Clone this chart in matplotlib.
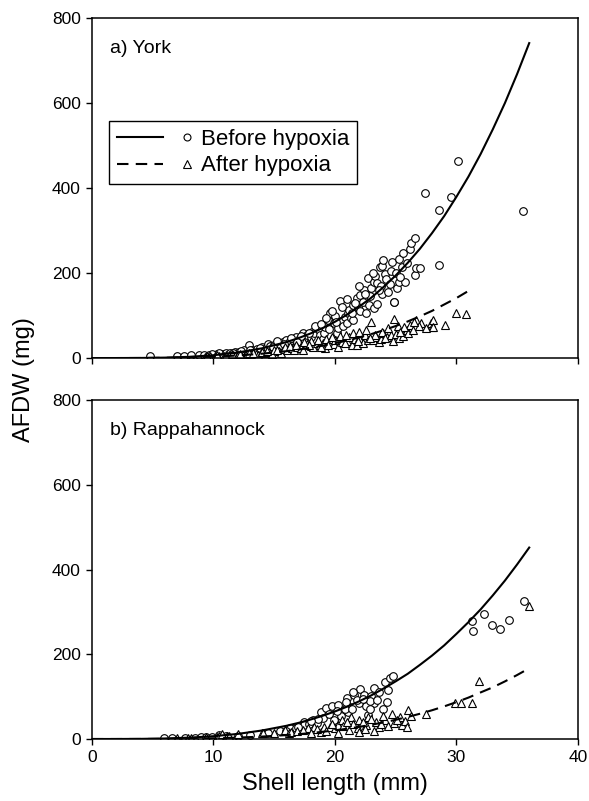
import matplotlib
matplotlib.use("Agg")
import matplotlib.pyplot as plt
from matplotlib.legend_handler import HandlerTuple
from matplotlib.lines import Line2D

plt.rcParams['font.family'] = ['Liberation Sans', 'DejaVu Sans']

# fitted curves (2 mm steps, 1 mm where it bends)
fit_x = [0, 2, 4, 6, 8, 10, 12, 14, 16, 17, 18, 19, 20, 21, 22, 23, 24, 25,
         26, 27, 28, 29, 30, 31, 32, 33, 34, 35, 36]
fit_x_york_after = [0, 2, 4, 6, 8, 10, 12, 14, 16, 17, 18, 19, 20, 21, 22, 23,
                    24, 25, 26, 27, 28, 29, 30, 31]

york_fit_before = [0, 0.018, 0.23, 1.0, 2.9, 6.6, 13.0, 22.9, 37.5, 46.8, 57.8,
                   70.5, 85.2, 102, 121, 142, 167, 194, 224, 257, 294, 334,
                   379, 427, 480, 538, 600, 668, 741]
york_fit_after = [0, 0.012, 0.135, 0.55, 1.5, 3.2, 6.0, 10.2, 16.1, 19.9, 24.2,
                  29.2, 34.8, 41.2, 48.4, 56.4, 65.3, 75.3, 86.1, 98.1, 111,
                  126, 141, 158]
rapp_fit_before = [0, 0.033, 0.32, 1.2, 3.2, 6.6, 12.0, 20.1, 31.1, 38.0, 45.9,
                   54.9, 65.0, 76.3, 89, 103, 119, 136, 154, 175, 197, 221,
                   248, 276, 306, 339, 374, 412, 452]
rapp_fit_after = [0, 0.005, 0.064, 0.27, 0.77, 1.7, 3.3, 5.7, 9.2, 11.4, 14.0,
                  17.0, 20.4, 24.2, 28.6, 33.6, 39.1, 45.3, 52.1, 59.6, 67.9,
                  77.0, 87, 97.8, 110, 122, 136, 151, 167]

# York, before hypoxia (circles)
york_before_x = [4.8, 7.0, 7.6, 8.2, 8.8, 9.2, 9.6, 10.0, 10.3, 10.7,
                 11.0, 11.4, 11.8, 12.1, 12.5, 12.9, 13.2, 13.6, 14.0, 14.3,
                 14.5, 14.7, 15.0, 15.3, 15.5, 15.7, 16.0, 16.2, 16.3, 16.6,
                 16.8, 17.0, 17.1, 17.4, 17.5, 17.7, 18.0, 18.1, 18.3, 18.5,
                 18.7, 18.8, 19.0, 19.1, 19.2, 19.4, 19.5, 19.6, 19.9, 20.0,
                 20.2, 20.3, 20.4, 20.5, 20.7, 20.8, 21.0, 21.1, 21.2, 21.3,
                 21.5, 21.5, 21.8, 21.9, 22.1, 22.1, 22.3, 22.4, 22.6, 22.7,
                 22.8, 22.9, 23.0, 23.2, 23.2, 23.3, 23.5, 23.5, 23.7, 23.8,
                 23.9, 23.9, 24.1, 24.2, 24.4, 24.6, 24.7, 24.9, 24.9, 25.1,
                 25.3, 25.3, 25.5, 25.6, 25.8, 25.9, 26.2, 26.3, 26.6, 26.6,
                 26.7, 27.0, 27.4, 28.6, 28.6, 29.6, 30.1, 35.5,
                 12.3, 13.0, 13.8, 14.9, 15.8, 16.4, 17.2, 17.9, 18.4, 18.9,
                 19.3, 19.8, 20.1, 20.6, 21.0, 21.4, 21.7, 22.0, 22.5, 23.1,
                 23.6, 24.0, 24.5, 25.0, 25.4, 11.6, 10.5, 9.9, 15.2, 16.9]
york_before_y = [5, 5, 5, 6, 7, 6, 8, 8, 9, 10,
                 11, 12, 14, 15, 18, 30, 20, 22, 25, 24,
                 32, 28, 30, 36, 30, 38, 42, 35, 40, 45,
                 50, 40, 48, 58, 45, 55, 50, 62, 58, 70,
                 65, 55, 45, 60, 74, 89, 68, 105, 82, 100,
                 60, 70, 135, 88, 75, 97, 82, 105, 113, 95,
                 125, 90, 142, 120, 148, 110, 132, 160, 105, 188,
                 125, 145, 165, 180, 117, 193, 177, 128, 215, 170,
                 217, 150, 198, 185, 156, 205, 227, 131, 132, 164,
                 232, 180, 215, 246, 178, 223, 256, 270, 282, 195,
                 211, 212, 389, 348, 220, 380, 463, 346,
                 16, 19, 24, 27, 33, 48, 52, 60, 75, 80,
                 95, 110, 85, 120, 140, 105, 130, 170, 150, 200,
                 160, 230, 175, 200, 190, 13, 11, 9, 40, 38]

# York, after hypoxia (triangles)
york_after_x = [9.3, 9.7, 10.1, 10.5, 10.7, 10.9, 11.3, 11.6, 11.8, 12.0,
                12.4, 12.6, 12.8, 13.1, 13.5, 13.7, 13.9, 14.2, 14.6, 14.8,
                15.0, 15.4, 15.6, 15.8, 16.1, 16.5, 16.6, 16.9, 17.2, 17.4,
                17.7, 18.0, 18.2, 18.5, 18.8, 19.0, 19.2, 19.5, 19.7, 19.9,
                20.0, 20.3, 20.6, 21.0, 21.2, 21.4, 21.7, 21.8, 22.0, 22.3,
                22.5, 22.7, 23.0, 23.1, 23.4, 23.6, 23.8, 24.0, 24.3, 24.6,
                24.8, 24.9, 25.0, 25.3, 25.6, 25.9, 26.0, 26.2, 26.7, 27.1,
                27.9, 28.0, 28.1, 28.1, 29.1, 30.0, 30.8,
                9.5, 10.3, 11.0, 11.5, 12.2, 12.9, 13.3, 14.0, 14.4, 15.2,
                15.9, 16.3, 16.8, 17.5, 18.0, 18.6, 19.3, 19.8, 20.4, 20.9,
                21.5, 22.0, 22.6, 23.3, 23.9, 24.4, 25.2, 25.7, 26.4, 26.9,
                20.8, 21.9, 22.9, 17.9, 18.9, 19.4, 24.1, 25.4, 27.5, 26.5]
york_after_y = [3, 4, 4, 5, 4, 5, 6, 7, 5, 7,
                8, 6, 9, 9, 10, 8, 12, 12, 14, 10,
                18, 16, 12, 22, 19, 24, 18, 26, 23, 20,
                33, 28, 25, 36, 30, 36, 24, 35, 45, 32,
                42, 27, 38, 40, 50, 31, 45, 30, 48, 35,
                55, 42, 85, 42, 50, 38, 45, 60, 50, 55,
                40, 93, 57, 48, 52, 66, 58, 78, 89, 82,
                82, 74, 89, 73, 78, 105, 103,
                5, 6, 7, 9, 10, 12, 13, 15, 17, 20,
                25, 28, 30, 38, 40, 42, 45, 50, 52, 55,
                60, 62, 65, 55, 62, 70, 75, 72, 65, 75,
                35, 40, 46, 30, 25, 30, 46, 62, 70, 84]

# Rappahannock, before hypoxia (circles)
rapp_before_x = [5.9, 6.6, 7.7, 8.5, 9.0, 9.4, 9.9, 10.5, 11.0, 12.0,
                 13.0, 14.5, 15.5, 16.2, 16.3, 16.8, 17.5, 17.5, 18.2, 18.9,
                 19.3, 19.8, 20.0, 20.3, 20.5, 21.0, 21.1, 21.1, 21.6, 22.0,
                 22.1, 22.4, 22.6, 22.7, 23.0, 23.2, 23.2, 24.0, 24.1, 24.3,
                 24.5, 24.8, 31.3, 31.4, 32.3, 32.9, 33.6, 34.3, 35.6,
                 19.0, 20.8, 21.8, 22.9, 18.5, 23.6,
                 17.0, 17.9, 18.6, 19.5, 20.2, 20.9, 21.4, 22.3, 22.9, 23.5,
                 24.4, 21.5, 19.9, 18.0, 16.0]
rapp_before_y = [3, 3, 3, 3, 4, 4, 5, 9, 6, 8,
                 10, 15, 18, 22, 26, 25, 40, 32, 45, 64,
                 74, 77, 52, 80, 55, 96, 77, 63, 104, 84,
                 119, 104, 77, 57, 102, 121, 84, 72, 135, 88,
                 143, 149, 278, 255, 296, 268, 260, 282, 325,
                 50, 70, 92, 90, 38, 110,
                 28, 35, 48, 60, 66, 88, 72, 95, 70, 92,
                 115, 112, 45, 42, 20]

# Rappahannock, after hypoxia (triangles)
rapp_after_x = [7.0, 7.9, 8.2, 9.4, 10.3, 10.5, 10.7, 11.1, 11.3, 12.0,
                14.0, 14.1, 15.9, 16.2, 16.4, 17.8, 18.3, 18.9, 19.1, 19.6,
                20.0, 20.3, 20.3, 20.6, 21.2, 21.3, 21.9, 22.0, 22.0, 22.6,
                22.7, 23.4, 23.6, 24.1, 24.7, 24.9, 25.4, 25.5, 25.8, 26.0,
                27.5, 29.9, 30.4, 31.3, 31.9, 36.0,
                15.0, 16.9, 17.4, 18.5, 19.3, 20.7, 21.5, 22.3, 23.0, 23.8,
                24.4, 25.1, 25.9, 26.3, 24.0, 21.0, 19.8, 22.5, 23.2, 18.0]
rapp_after_y = [3, 3, 3, 4, 5, 6, 11, 8, 7, 11,
                13, 15, 21, 13, 17, 25, 29, 17, 29, 29,
                25, 34, 13, 45, 21, 53, 25, 45, 17, 33,
                52, 41, 29, 45, 60, 38, 53, 34, 42, 68,
                59, 84, 86, 84, 136, 315,
                14, 20, 22, 24, 20, 30, 36, 40, 48, 35,
                30, 45, 28, 55, 55, 40, 35, 24, 20, 15]

x_ticks = [0, 10, 20, 30, 40]
y_ticks = [0, 200, 400, 600, 800]

fig = plt.figure(figsize=(5.89, 8.01), dpi=100)
ax1 = fig.add_axes([0.156, 0.553, 0.825, 0.4245])
ax2 = fig.add_axes([0.156, 0.0774, 0.825, 0.423])

mk = dict(linestyle='none', markerfacecolor='white', markeredgecolor='black',
          markeredgewidth=0.8)


def panel(ax, bx, by, tx, ty, fx_b, fy_b, fx_a, fy_a, label):
    ax.plot(bx, by, marker='o', markersize=5.5, zorder=2, **mk)
    ax.plot(tx, ty, marker='^', markersize=6, zorder=2, **mk)
    ax.plot(fx_b, fy_b, color='black', lw=1.5, zorder=3)
    ax.plot(fx_a, fy_a, color='black', lw=1.5, dashes=(5.5, 3.5), zorder=3)
    ax.set_xlim(0, 40)
    ax.set_ylim(0, 800)
    ax.set_xticks(x_ticks)
    ax.set_yticks(y_ticks)
    ax.tick_params(direction='out', length=4, width=1, labelsize=12.5, pad=4)
    for s in ax.spines.values():
        s.set_linewidth(1.1)
    ax.text(0.037, 0.897, label, transform=ax.transAxes, fontsize=14)


panel(ax1, york_before_x, york_before_y, york_after_x, york_after_y,
      fit_x, york_fit_before, fit_x_york_after, york_fit_after, 'a) York')
panel(ax2, rapp_before_x, rapp_before_y, rapp_after_x, rapp_after_y,
      fit_x, rapp_fit_before, fit_x, rapp_fit_after, 'b) Rappahannock')
ax1.tick_params(labelbottom=False)

# legend: line segment then marker
h_line1 = Line2D([], [], color='black', lw=1.5)
h_mk1 = Line2D([], [], marker='o', markersize=5, **mk)
h_line2 = Line2D([], [], color='black', lw=1.5, dashes=(5.5, 3.5))
h_mk2 = Line2D([], [], marker='^', markersize=5.5, **mk)
leg = ax1.legend([(h_line1, h_mk1), (h_line2, h_mk2)],
                 ['Before hypoxia', 'After hypoxia'],
                 handler_map={tuple: HandlerTuple(ndivide=None, pad=0)},
                 loc='upper left', bbox_to_anchor=(0.035, 0.697),
                 fontsize=16, handlelength=4.2, handletextpad=-0.4,
                 labelspacing=0.25, borderpad=0.35, borderaxespad=0,
                 fancybox=False, framealpha=1, edgecolor='black')
leg.get_frame().set_linewidth(1.0)

ax2.set_xlabel('Shell length (mm)', fontsize=17, labelpad=6)
fig.text(24 / 589, 1 - 380 / 801, 'AFDW (mg)', rotation=90, fontsize=17,
         ha='center', va='center')

fig.savefig('out.png', dpi=100)
